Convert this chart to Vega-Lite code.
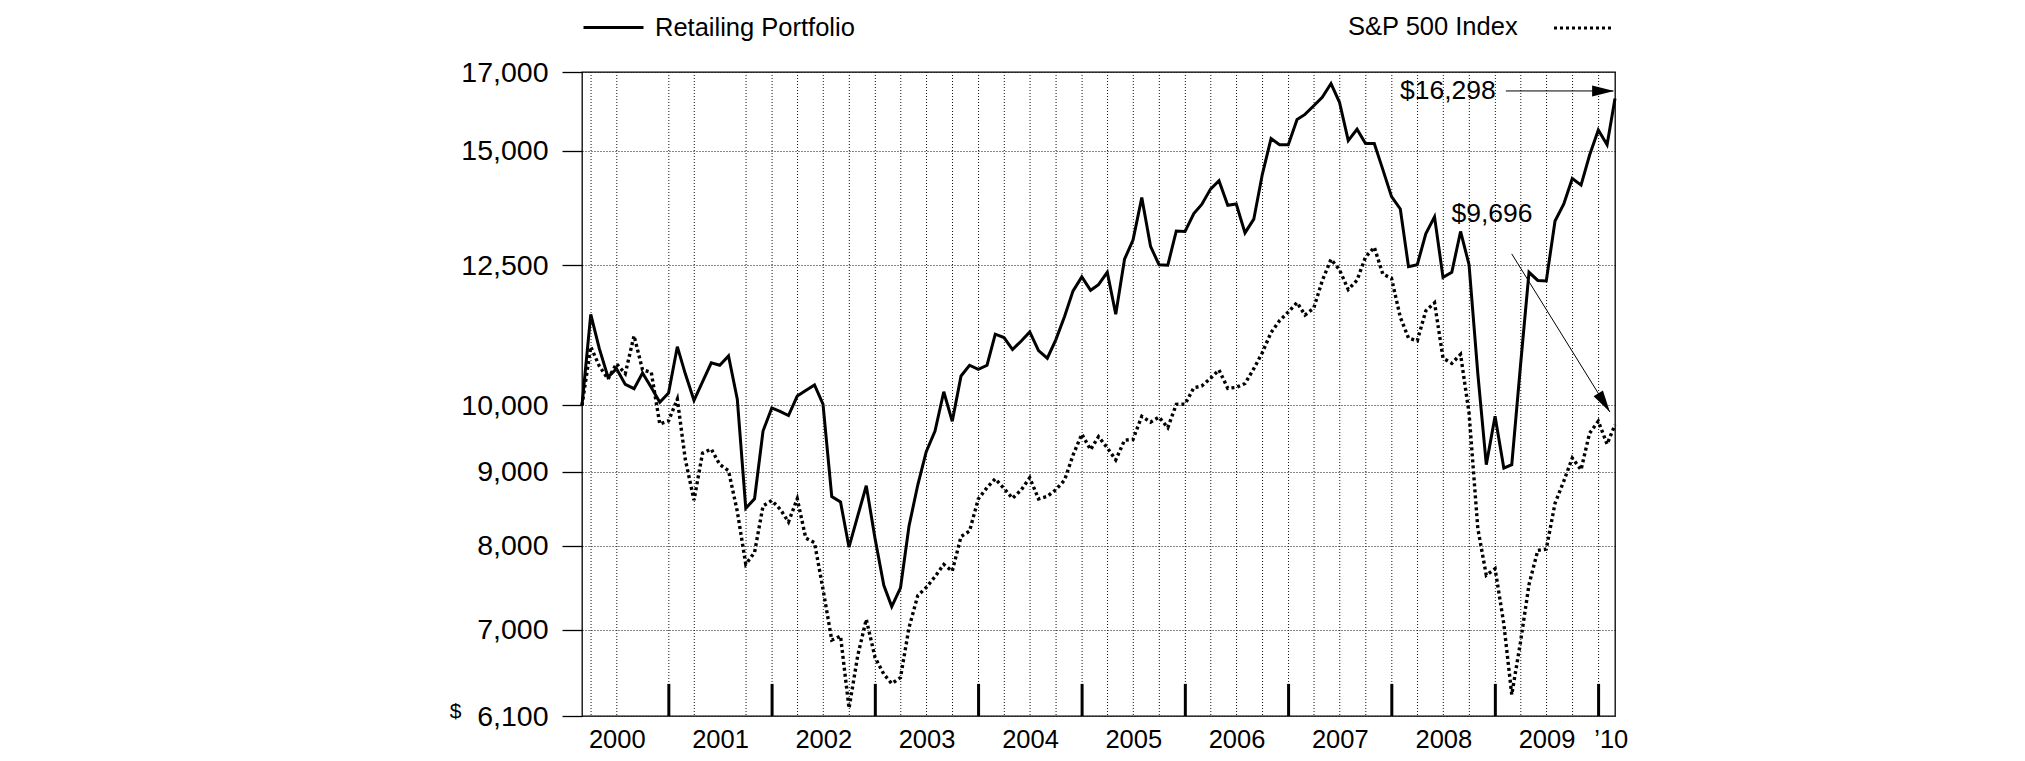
{
  "$schema": "https://vega.github.io/schema/vega-lite/v6.json",
  "width": 1033,
  "height": 644,
  "autosize": {"type": "none"},
  "padding": {"left": 582, "top": 72, "right": 410, "bottom": 45},
  "background": "white",
  "config": {
    "font": "Liberation Sans",
    "view": {"stroke": "#000", "strokeWidth": 1.3}
  },
  "datasets": {
    "series": [
      {"date":"2000-02-29","series":"Retailing Portfolio","value":10000},
      {"date":"2000-03-31","series":"Retailing Portfolio","value":11560},
      {"date":"2000-04-30","series":"Retailing Portfolio","value":10950},
      {"date":"2000-05-31","series":"Retailing Portfolio","value":10460},
      {"date":"2000-06-30","series":"Retailing Portfolio","value":10600},
      {"date":"2000-07-31","series":"Retailing Portfolio","value":10340},
      {"date":"2000-08-31","series":"Retailing Portfolio","value":10270},
      {"date":"2000-09-30","series":"Retailing Portfolio","value":10530},
      {"date":"2000-10-31","series":"Retailing Portfolio","value":10290},
      {"date":"2000-11-30","series":"Retailing Portfolio","value":10050},
      {"date":"2000-12-31","series":"Retailing Portfolio","value":10200},
      {"date":"2001-01-31","series":"Retailing Portfolio","value":10980},
      {"date":"2001-02-28","series":"Retailing Portfolio","value":10520},
      {"date":"2001-03-31","series":"Retailing Portfolio","value":10080},
      {"date":"2001-04-30","series":"Retailing Portfolio","value":10380},
      {"date":"2001-05-31","series":"Retailing Portfolio","value":10700},
      {"date":"2001-06-30","series":"Retailing Portfolio","value":10660},
      {"date":"2001-07-31","series":"Retailing Portfolio","value":10820},
      {"date":"2001-08-31","series":"Retailing Portfolio","value":10100},
      {"date":"2001-09-30","series":"Retailing Portfolio","value":8490},
      {"date":"2001-10-31","series":"Retailing Portfolio","value":8620},
      {"date":"2001-11-30","series":"Retailing Portfolio","value":9600},
      {"date":"2001-12-31","series":"Retailing Portfolio","value":9960},
      {"date":"2002-01-31","series":"Retailing Portfolio","value":9900},
      {"date":"2002-02-28","series":"Retailing Portfolio","value":9840},
      {"date":"2002-03-31","series":"Retailing Portfolio","value":10150},
      {"date":"2002-04-30","series":"Retailing Portfolio","value":10240},
      {"date":"2002-05-31","series":"Retailing Portfolio","value":10330},
      {"date":"2002-06-30","series":"Retailing Portfolio","value":10020},
      {"date":"2002-07-31","series":"Retailing Portfolio","value":8650},
      {"date":"2002-08-31","series":"Retailing Portfolio","value":8575},
      {"date":"2002-09-30","series":"Retailing Portfolio","value":7980},
      {"date":"2002-10-31","series":"Retailing Portfolio","value":8390},
      {"date":"2002-11-30","series":"Retailing Portfolio","value":8800},
      {"date":"2002-12-31","series":"Retailing Portfolio","value":8090},
      {"date":"2003-01-31","series":"Retailing Portfolio","value":7510},
      {"date":"2003-02-28","series":"Retailing Portfolio","value":7260},
      {"date":"2003-03-31","series":"Retailing Portfolio","value":7480},
      {"date":"2003-04-30","series":"Retailing Portfolio","value":8250},
      {"date":"2003-05-31","series":"Retailing Portfolio","value":8810},
      {"date":"2003-06-30","series":"Retailing Portfolio","value":9290},
      {"date":"2003-07-31","series":"Retailing Portfolio","value":9600},
      {"date":"2003-08-31","series":"Retailing Portfolio","value":10220},
      {"date":"2003-09-30","series":"Retailing Portfolio","value":9750},
      {"date":"2003-10-31","series":"Retailing Portfolio","value":10480},
      {"date":"2003-11-30","series":"Retailing Portfolio","value":10660},
      {"date":"2003-12-31","series":"Retailing Portfolio","value":10590},
      {"date":"2004-01-31","series":"Retailing Portfolio","value":10660},
      {"date":"2004-02-29","series":"Retailing Portfolio","value":11200},
      {"date":"2004-03-31","series":"Retailing Portfolio","value":11140},
      {"date":"2004-04-30","series":"Retailing Portfolio","value":10930},
      {"date":"2004-05-31","series":"Retailing Portfolio","value":11080},
      {"date":"2004-06-30","series":"Retailing Portfolio","value":11240},
      {"date":"2004-07-31","series":"Retailing Portfolio","value":10910},
      {"date":"2004-08-31","series":"Retailing Portfolio","value":10780},
      {"date":"2004-09-30","series":"Retailing Portfolio","value":11100},
      {"date":"2004-10-31","series":"Retailing Portfolio","value":11520},
      {"date":"2004-11-30","series":"Retailing Portfolio","value":12000},
      {"date":"2004-12-31","series":"Retailing Portfolio","value":12270},
      {"date":"2005-01-31","series":"Retailing Portfolio","value":12010},
      {"date":"2005-02-28","series":"Retailing Portfolio","value":12120},
      {"date":"2005-03-31","series":"Retailing Portfolio","value":12360},
      {"date":"2005-04-30","series":"Retailing Portfolio","value":11560},
      {"date":"2005-05-31","series":"Retailing Portfolio","value":12620},
      {"date":"2005-06-30","series":"Retailing Portfolio","value":13010},
      {"date":"2005-07-31","series":"Retailing Portfolio","value":13920},
      {"date":"2005-08-31","series":"Retailing Portfolio","value":12880},
      {"date":"2005-09-30","series":"Retailing Portfolio","value":12510},
      {"date":"2005-10-31","series":"Retailing Portfolio","value":12500},
      {"date":"2005-11-30","series":"Retailing Portfolio","value":13200},
      {"date":"2005-12-31","series":"Retailing Portfolio","value":13190},
      {"date":"2006-01-31","series":"Retailing Portfolio","value":13570},
      {"date":"2006-02-28","series":"Retailing Portfolio","value":13770},
      {"date":"2006-03-31","series":"Retailing Portfolio","value":14110},
      {"date":"2006-04-30","series":"Retailing Portfolio","value":14300},
      {"date":"2006-05-31","series":"Retailing Portfolio","value":13750},
      {"date":"2006-06-30","series":"Retailing Portfolio","value":13780},
      {"date":"2006-07-31","series":"Retailing Portfolio","value":13160},
      {"date":"2006-08-31","series":"Retailing Portfolio","value":13450},
      {"date":"2006-09-30","series":"Retailing Portfolio","value":14440},
      {"date":"2006-10-31","series":"Retailing Portfolio","value":15290},
      {"date":"2006-11-30","series":"Retailing Portfolio","value":15140},
      {"date":"2006-12-31","series":"Retailing Portfolio","value":15140},
      {"date":"2007-01-31","series":"Retailing Portfolio","value":15760},
      {"date":"2007-02-28","series":"Retailing Portfolio","value":15890},
      {"date":"2007-03-31","series":"Retailing Portfolio","value":16110},
      {"date":"2007-04-30","series":"Retailing Portfolio","value":16330},
      {"date":"2007-05-31","series":"Retailing Portfolio","value":16690},
      {"date":"2007-06-30","series":"Retailing Portfolio","value":16200},
      {"date":"2007-07-31","series":"Retailing Portfolio","value":15240},
      {"date":"2007-08-31","series":"Retailing Portfolio","value":15520},
      {"date":"2007-09-30","series":"Retailing Portfolio","value":15170},
      {"date":"2007-10-31","series":"Retailing Portfolio","value":15170},
      {"date":"2007-11-30","series":"Retailing Portfolio","value":14560},
      {"date":"2007-12-31","series":"Retailing Portfolio","value":13940},
      {"date":"2008-01-31","series":"Retailing Portfolio","value":13670},
      {"date":"2008-02-29","series":"Retailing Portfolio","value":12470},
      {"date":"2008-03-31","series":"Retailing Portfolio","value":12510},
      {"date":"2008-04-30","series":"Retailing Portfolio","value":13140},
      {"date":"2008-05-31","series":"Retailing Portfolio","value":13500},
      {"date":"2008-06-30","series":"Retailing Portfolio","value":12260},
      {"date":"2008-07-31","series":"Retailing Portfolio","value":12360},
      {"date":"2008-08-31","series":"Retailing Portfolio","value":13190},
      {"date":"2008-09-30","series":"Retailing Portfolio","value":12510},
      {"date":"2008-10-31","series":"Retailing Portfolio","value":10520},
      {"date":"2008-11-30","series":"Retailing Portfolio","value":9100},
      {"date":"2008-12-31","series":"Retailing Portfolio","value":9830},
      {"date":"2009-01-31","series":"Retailing Portfolio","value":9050},
      {"date":"2009-02-28","series":"Retailing Portfolio","value":9100},
      {"date":"2009-03-31","series":"Retailing Portfolio","value":10660},
      {"date":"2009-04-30","series":"Retailing Portfolio","value":12360},
      {"date":"2009-05-31","series":"Retailing Portfolio","value":12200},
      {"date":"2009-06-30","series":"Retailing Portfolio","value":12190},
      {"date":"2009-07-31","series":"Retailing Portfolio","value":13410},
      {"date":"2009-08-31","series":"Retailing Portfolio","value":13780},
      {"date":"2009-09-30","series":"Retailing Portfolio","value":14350},
      {"date":"2009-10-31","series":"Retailing Portfolio","value":14200},
      {"date":"2009-11-30","series":"Retailing Portfolio","value":14890},
      {"date":"2009-12-31","series":"Retailing Portfolio","value":15500},
      {"date":"2010-01-31","series":"Retailing Portfolio","value":15140},
      {"date":"2010-02-28","series":"Retailing Portfolio","value":16298},
      {"date":"2000-02-29","series":"S&P 500 Index","value":10000},
      {"date":"2000-03-31","series":"S&P 500 Index","value":10978},
      {"date":"2000-04-30","series":"S&P 500 Index","value":10648},
      {"date":"2000-05-31","series":"S&P 500 Index","value":10429},
      {"date":"2000-06-30","series":"S&P 500 Index","value":10687},
      {"date":"2000-07-31","series":"S&P 500 Index","value":10520},
      {"date":"2000-08-31","series":"S&P 500 Index","value":11173},
      {"date":"2000-09-30","series":"S&P 500 Index","value":10583},
      {"date":"2000-10-31","series":"S&P 500 Index","value":10539},
      {"date":"2000-11-30","series":"S&P 500 Index","value":9708},
      {"date":"2000-12-31","series":"S&P 500 Index","value":9756},
      {"date":"2001-01-31","series":"S&P 500 Index","value":10102},
      {"date":"2001-02-28","series":"S&P 500 Index","value":9181},
      {"date":"2001-03-31","series":"S&P 500 Index","value":8599},
      {"date":"2001-04-30","series":"S&P 500 Index","value":9267},
      {"date":"2001-05-31","series":"S&P 500 Index","value":9329},
      {"date":"2001-06-30","series":"S&P 500 Index","value":9102},
      {"date":"2001-07-31","series":"S&P 500 Index","value":9013},
      {"date":"2001-08-31","series":"S&P 500 Index","value":8449},
      {"date":"2001-09-30","series":"S&P 500 Index","value":7766},
      {"date":"2001-10-31","series":"S&P 500 Index","value":7914},
      {"date":"2001-11-30","series":"S&P 500 Index","value":8521},
      {"date":"2001-12-31","series":"S&P 500 Index","value":8596},
      {"date":"2002-01-31","series":"S&P 500 Index","value":8471},
      {"date":"2002-02-28","series":"S&P 500 Index","value":8307},
      {"date":"2002-03-31","series":"S&P 500 Index","value":8620},
      {"date":"2002-04-30","series":"S&P 500 Index","value":8097},
      {"date":"2002-05-31","series":"S&P 500 Index","value":8037},
      {"date":"2002-06-30","series":"S&P 500 Index","value":7465},
      {"date":"2002-07-31","series":"S&P 500 Index","value":6883},
      {"date":"2002-08-31","series":"S&P 500 Index","value":6928},
      {"date":"2002-09-30","series":"S&P 500 Index","value":6175},
      {"date":"2002-10-31","series":"S&P 500 Index","value":6718},
      {"date":"2002-11-30","series":"S&P 500 Index","value":7114},
      {"date":"2002-12-31","series":"S&P 500 Index","value":6696},
      {"date":"2003-01-31","series":"S&P 500 Index","value":6520},
      {"date":"2003-02-28","series":"S&P 500 Index","value":6423},
      {"date":"2003-03-31","series":"S&P 500 Index","value":6485},
      {"date":"2003-04-30","series":"S&P 500 Index","value":7019},
      {"date":"2003-05-31","series":"S&P 500 Index","value":7389},
      {"date":"2003-06-30","series":"S&P 500 Index","value":7484},
      {"date":"2003-07-31","series":"S&P 500 Index","value":7615},
      {"date":"2003-08-31","series":"S&P 500 Index","value":7764},
      {"date":"2003-09-30","series":"S&P 500 Index","value":7681},
      {"date":"2003-10-31","series":"S&P 500 Index","value":8116},
      {"date":"2003-11-30","series":"S&P 500 Index","value":8187},
      {"date":"2003-12-31","series":"S&P 500 Index","value":8616},
      {"date":"2004-01-31","series":"S&P 500 Index","value":8775},
      {"date":"2004-02-29","series":"S&P 500 Index","value":8897},
      {"date":"2004-03-31","series":"S&P 500 Index","value":8762},
      {"date":"2004-04-30","series":"S&P 500 Index","value":8625},
      {"date":"2004-05-31","series":"S&P 500 Index","value":8743},
      {"date":"2004-06-30","series":"S&P 500 Index","value":8912},
      {"date":"2004-07-31","series":"S&P 500 Index","value":8617},
      {"date":"2004-08-31","series":"S&P 500 Index","value":8652},
      {"date":"2004-09-30","series":"S&P 500 Index","value":8745},
      {"date":"2004-10-31","series":"S&P 500 Index","value":8879},
      {"date":"2004-11-30","series":"S&P 500 Index","value":9239},
      {"date":"2004-12-31","series":"S&P 500 Index","value":9553},
      {"date":"2005-01-31","series":"S&P 500 Index","value":9320},
      {"date":"2005-02-28","series":"S&P 500 Index","value":9515},
      {"date":"2005-03-31","series":"S&P 500 Index","value":9347},
      {"date":"2005-04-30","series":"S&P 500 Index","value":9169},
      {"date":"2005-05-31","series":"S&P 500 Index","value":9461},
      {"date":"2005-06-30","series":"S&P 500 Index","value":9474},
      {"date":"2005-07-31","series":"S&P 500 Index","value":9827},
      {"date":"2005-08-31","series":"S&P 500 Index","value":9737},
      {"date":"2005-09-30","series":"S&P 500 Index","value":9816},
      {"date":"2005-10-31","series":"S&P 500 Index","value":9652},
      {"date":"2005-11-30","series":"S&P 500 Index","value":10017},
      {"date":"2005-12-31","series":"S&P 500 Index","value":10020},
      {"date":"2006-01-31","series":"S&P 500 Index","value":10285},
      {"date":"2006-02-28","series":"S&P 500 Index","value":10313},
      {"date":"2006-03-31","series":"S&P 500 Index","value":10441},
      {"date":"2006-04-30","series":"S&P 500 Index","value":10581},
      {"date":"2006-05-31","series":"S&P 500 Index","value":10276},
      {"date":"2006-06-30","series":"S&P 500 Index","value":10291},
      {"date":"2006-07-31","series":"S&P 500 Index","value":10355},
      {"date":"2006-08-31","series":"S&P 500 Index","value":10601},
      {"date":"2006-09-30","series":"S&P 500 Index","value":10875},
      {"date":"2006-10-31","series":"S&P 500 Index","value":11229},
      {"date":"2006-11-30","series":"S&P 500 Index","value":11443},
      {"date":"2006-12-31","series":"S&P 500 Index","value":11603},
      {"date":"2007-01-31","series":"S&P 500 Index","value":11778},
      {"date":"2007-02-28","series":"S&P 500 Index","value":11547},
      {"date":"2007-03-31","series":"S&P 500 Index","value":11676},
      {"date":"2007-04-30","series":"S&P 500 Index","value":12194},
      {"date":"2007-05-31","series":"S&P 500 Index","value":12619},
      {"date":"2007-06-30","series":"S&P 500 Index","value":12410},
      {"date":"2007-07-31","series":"S&P 500 Index","value":12025},
      {"date":"2007-08-31","series":"S&P 500 Index","value":12206},
      {"date":"2007-09-30","series":"S&P 500 Index","value":12662},
      {"date":"2007-10-31","series":"S&P 500 Index","value":12863},
      {"date":"2007-11-30","series":"S&P 500 Index","value":12326},
      {"date":"2007-12-31","series":"S&P 500 Index","value":12241},
      {"date":"2008-01-31","series":"S&P 500 Index","value":11506},
      {"date":"2008-02-29","series":"S&P 500 Index","value":11132},
      {"date":"2008-03-31","series":"S&P 500 Index","value":11084},
      {"date":"2008-04-30","series":"S&P 500 Index","value":11624},
      {"date":"2008-05-31","series":"S&P 500 Index","value":11775},
      {"date":"2008-06-30","series":"S&P 500 Index","value":10782},
      {"date":"2008-07-31","series":"S&P 500 Index","value":10692},
      {"date":"2008-08-31","series":"S&P 500 Index","value":10847},
      {"date":"2008-09-30","series":"S&P 500 Index","value":9880},
      {"date":"2008-10-31","series":"S&P 500 Index","value":8221},
      {"date":"2008-11-30","series":"S&P 500 Index","value":7631},
      {"date":"2008-12-31","series":"S&P 500 Index","value":7712},
      {"date":"2009-01-31","series":"S&P 500 Index","value":7062},
      {"date":"2009-02-28","series":"S&P 500 Index","value":6310},
      {"date":"2009-03-31","series":"S&P 500 Index","value":6863},
      {"date":"2009-04-30","series":"S&P 500 Index","value":7520},
      {"date":"2009-05-31","series":"S&P 500 Index","value":7940},
      {"date":"2009-06-30","series":"S&P 500 Index","value":7956},
      {"date":"2009-07-31","series":"S&P 500 Index","value":8557},
      {"date":"2009-08-31","series":"S&P 500 Index","value":8866},
      {"date":"2009-09-30","series":"S&P 500 Index","value":9197},
      {"date":"2009-10-31","series":"S&P 500 Index","value":9026},
      {"date":"2009-11-30","series":"S&P 500 Index","value":9567},
      {"date":"2009-12-31","series":"S&P 500 Index","value":9752},
      {"date":"2010-01-31","series":"S&P 500 Index","value":9401},
      {"date":"2010-02-28","series":"S&P 500 Index","value":9696}
    ],
    "quarters": [
      {"date":"2000-04-01"},{"date":"2000-07-01"},
      {"date":"2001-01-01"},{"date":"2001-04-01"},{"date":"2001-10-01"},
      {"date":"2002-01-01"},{"date":"2002-04-01"},{"date":"2002-07-01"},{"date":"2002-10-01"},
      {"date":"2003-01-01"},{"date":"2003-04-01"},{"date":"2003-07-01"},{"date":"2003-10-01"},
      {"date":"2004-01-01"},{"date":"2004-04-01"},{"date":"2004-07-01"},{"date":"2004-10-01"},
      {"date":"2005-01-01"},{"date":"2005-04-01"},{"date":"2005-07-01"},{"date":"2005-10-01"},
      {"date":"2006-01-01"},{"date":"2006-04-01"},{"date":"2006-07-01"},{"date":"2006-10-01"},
      {"date":"2007-01-01"},{"date":"2007-04-01"},{"date":"2007-07-01"},{"date":"2007-10-01"},
      {"date":"2008-01-01"},{"date":"2008-04-01"},{"date":"2008-07-01"},{"date":"2008-10-01"},
      {"date":"2009-01-01"},{"date":"2009-04-01"},{"date":"2009-07-01"},{"date":"2009-10-01"},
      {"date":"2010-01-01"}
    ],
    "years": [
      {"date":"2001-01-01"},{"date":"2002-01-01"},{"date":"2003-01-01"},{"date":"2004-01-01"},
      {"date":"2005-01-01"},{"date":"2006-01-01"},{"date":"2007-01-01"},{"date":"2008-01-01"},
      {"date":"2009-01-01"},{"date":"2010-01-01"}
    ],
    "labels": [
      {"date":"2008-07-17","value":16495,"label":"$16,298"},
      {"date":"2008-12-20","value":13566,"label":"$9,696"}
    ],
    "arrows": [
      {"date":"2009-02-07","value":16495,"date2":"2010-02-22","value2":16495},
      {"date":"2009-02-28","value":12727,"date2":"2010-02-10","value2":9895}
    ],
    "headRight": [{"date":"2010-02-25","value":16495}],
    "headDiag": [{"date":"2010-02-10","value":9895}]
  },
  "layer": [
    {
      "data": {"name": "series"},
      "transform": [{"filter": "datum.series == 'Retailing Portfolio'"}],
      "mark": {"type": "line", "strokeWidth": 3, "strokeJoin": "miter"},
      "encoding": {
        "x": {
          "field": "date", "type": "temporal",
          "scale": {"type": "utc", "domain": [{"year": 2000, "month": 2, "date": 29, "utc": true}, {"year": 2010, "month": 2, "date": 28, "utc": true}]},
          "axis": {
            "title": null,
            "values": [
              {"year": 2000, "month": 7, "date": 1, "utc": true},
              {"year": 2001, "month": 7, "date": 1, "utc": true},
              {"year": 2002, "month": 7, "date": 1, "utc": true},
              {"year": 2003, "month": 7, "date": 1, "utc": true},
              {"year": 2004, "month": 7, "date": 1, "utc": true},
              {"year": 2005, "month": 7, "date": 1, "utc": true},
              {"year": 2006, "month": 7, "date": 1, "utc": true},
              {"year": 2007, "month": 7, "date": 1, "utc": true},
              {"year": 2008, "month": 7, "date": 1, "utc": true},
              {"year": 2009, "month": 7, "date": 1, "utc": true},
              {"year": 2010, "month": 2, "date": 13, "utc": true}
            ],
            "labelExpr": "utcyear(datum.value) == 2010 ? '’10' : '' + utcyear(datum.value)",
            "ticks": false, "tickSize": 0, "domain": false, "grid": false,
            "labelFontSize": 25.5, "labelColor": "#000", "labelPadding": 11,
            "labelOverlap": false, "labelFlush": false
          }
        },
        "y": {
          "field": "value", "type": "quantitative",
          "scale": {"type": "log", "domain": [6100, 17000], "nice": false, "zero": false},
          "axis": {
            "values": [6100, 7000, 8000, 9000, 10000, 12500, 15000, 17000],
            "labelExpr": "format(datum.value, ',')",
            "labelFontSize": 28.5, "labelColor": "#000", "labelPadding": 14,
            "labelOverlap": false, "labelFlush": false,
            "ticks": true, "tickSize": 20, "tickWidth": 1.3, "tickColor": "#000",
            "domain": false,
            "grid": true, "gridColor": "#111", "gridDash": [1, 2], "gridWidth": 1,
            "title": "$", "titleAngle": 0, "titleX": -127, "titleY": 645,
            "titleAlign": "center", "titleBaseline": "alphabetic",
            "titleFontSize": 21, "titleFontWeight": "normal", "titleColor": "#000"
          }
        },
        "color": {
          "field": "series", "type": "nominal",
          "scale": {"domain": ["Retailing Portfolio"], "range": ["#000"]},
          "legend": {
            "orient": "none", "legendX": 0, "legendY": -76, "title": null,
            "symbolType": "stroke", "symbolSize": 3600, "symbolStrokeWidth": 3,
            "labelFontSize": 25.5, "labelColor": "#000", "labelOffset": 10, "labelLimit": 400, "padding": 0
          }
        }
      }
    },
    {
      "data": {"name": "quarters"},
      "mark": {"type": "rule", "color": "#111", "strokeWidth": 1, "strokeDash": [1, 2]},
      "encoding": {
        "x": {"field": "date", "type": "temporal"}
      }
    },
    {
      "data": {"name": "series"},
      "transform": [{"filter": "datum.series == 'S&P 500 Index'"}],
      "mark": {"type": "line", "color": "#000", "strokeWidth": 3.4, "strokeCap": "butt"},
      "encoding": {
        "x": {"field": "date", "type": "temporal"},
        "y": {"field": "value", "type": "quantitative"},
        "strokeDash": {
          "field": "series", "type": "nominal",
          "scale": {"domain": ["S&P 500 Index"], "range": [[3, 3]]},
          "legend": {
            "orient": "none", "legendX": 766, "legendY": -76,
            "title": "S&P 500 Index", "titleOrient": "left",
            "titleFontSize": 25.5, "titleFontWeight": "normal", "titleColor": "#000",
            "titleBaseline": "top", "titleAnchor": "middle", "titlePadding": 33, "titleLimit": 400,
            "labelExpr": "''", "labelOffset": 0,
            "symbolType": "stroke", "symbolSize": 3600, "symbolStrokeWidth": 3.2,
            "symbolStrokeColor": "#000", "padding": 0
          }
        }
      }
    },
    {
      "data": {"name": "years"},
      "mark": {"type": "rule", "color": "#000", "strokeWidth": 3},
      "encoding": {
        "x": {"field": "date", "type": "temporal"},
        "y": {"datum": 6100, "type": "quantitative"},
        "y2": {"datum": 6420}
      }
    },
    {
      "data": {"name": "labels"},
      "mark": {"type": "text", "fontSize": 26.5, "color": "#000", "align": "center", "baseline": "middle"},
      "encoding": {
        "x": {"field": "date", "type": "temporal"},
        "y": {"field": "value", "type": "quantitative"},
        "text": {"field": "label"}
      }
    },
    {
      "data": {"name": "arrows"},
      "mark": {"type": "rule", "color": "#000", "strokeWidth": 1},
      "encoding": {
        "x": {"field": "date", "type": "temporal"},
        "y": {"field": "value", "type": "quantitative"},
        "x2": {"field": "date2"},
        "y2": {"field": "value2"}
      }
    },
    {
      "data": {"name": "headRight"},
      "mark": {"type": "point", "shape": "M0,0L-2,-0.5L-2,0.5Z", "size": 484, "filled": true, "color": "#000", "opacity": 1, "angle": 0},
      "encoding": {
        "x": {"field": "date", "type": "temporal"},
        "y": {"field": "value", "type": "quantitative"}
      }
    },
    {
      "data": {"name": "headDiag"},
      "mark": {"type": "point", "shape": "M0,0L-2,-0.5L-2,0.5Z", "size": 484, "filled": true, "color": "#000", "opacity": 1, "angle": 58},
      "encoding": {
        "x": {"field": "date", "type": "temporal"},
        "y": {"field": "value", "type": "quantitative"}
      }
    }
  ]
}
